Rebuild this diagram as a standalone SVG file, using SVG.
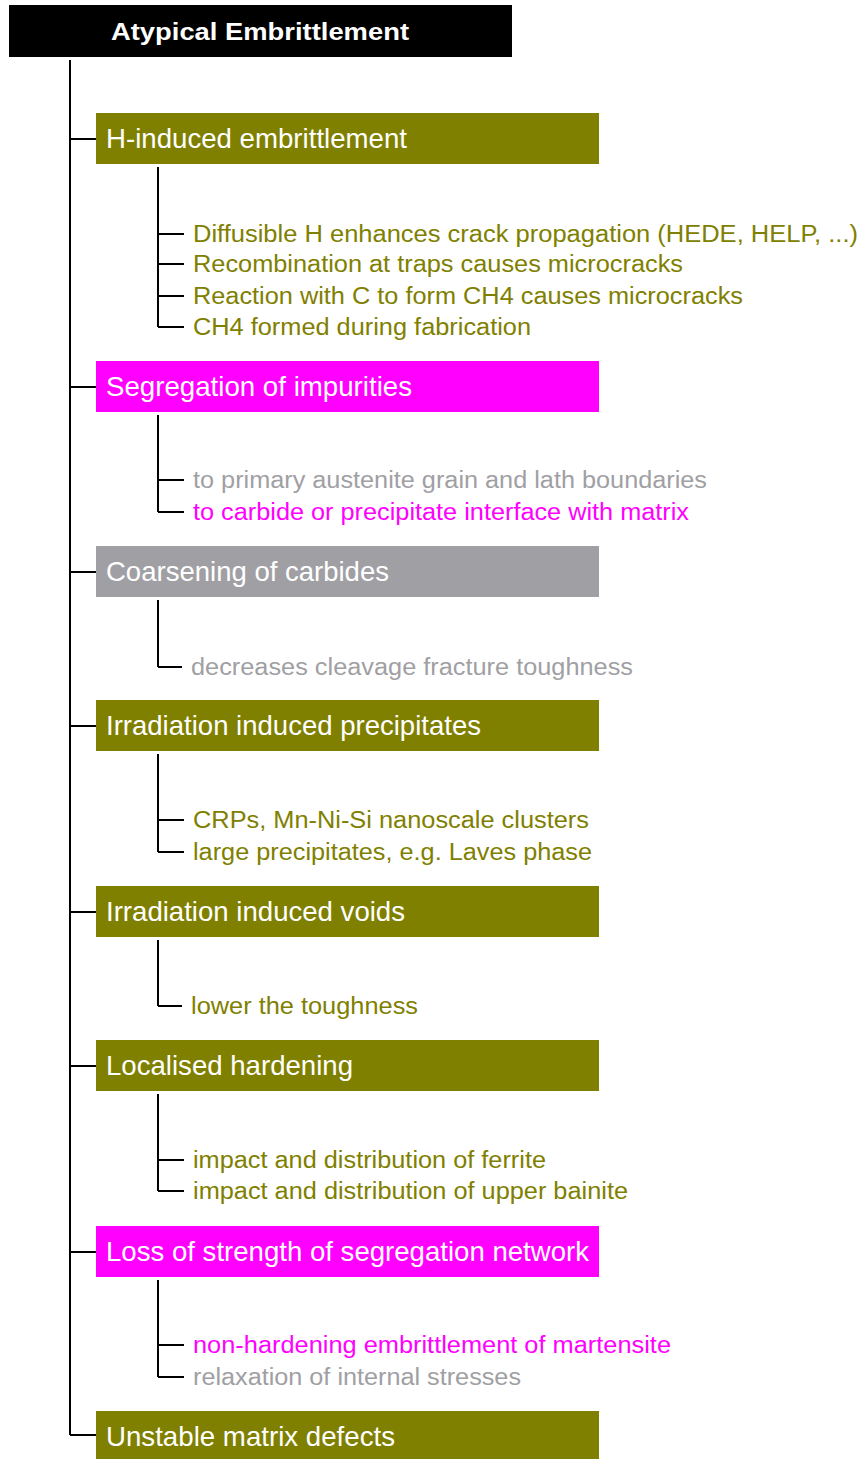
<svg xmlns="http://www.w3.org/2000/svg" width="862" height="1459" viewBox="0 0 862 1459">
<style>
.olive{fill:#808000}
.mag{fill:#ff00ff}
.gray{fill:#a0a0a4}
.title{font-family:"Liberation Sans",Arial,sans-serif;font-size:28px;fill:#ffffff}
.sub{font-family:"Liberation Sans",Arial,sans-serif;font-size:23px}
.to{fill:#808000}
.tm{fill:#ff00ff}
.tg{fill:#a0a0a4}
.conn{stroke:#000;stroke-width:2;fill:none}
</style>
<rect width="862" height="1459" fill="#ffffff"/>
<g id="connectors">
<path class="conn" d="M70 60 V1435 M70 139 H96 M70 387 H96 M70 572 H96 M70 726 H96 M70 912 H96 M70 1066 H96 M70 1252 H96 M70 1435 H96"/>
<path class="conn" d="M158 167 V327 M158 234 H184 M158 264 H184 M158 296 H184 M158 327 H184"/>
<path class="conn" d="M158 415 V512 M158 480 H184 M158 512 H184"/>
<path class="conn" d="M158 600 V667 M158 667 H182"/>
<path class="conn" d="M158 754 V852 M158 820 H184 M158 852 H184"/>
<path class="conn" d="M158 940 V1006 M158 1006 H182"/>
<path class="conn" d="M158 1094 V1191 M158 1160 H184 M158 1191 H184"/>
<path class="conn" d="M158 1280 V1377 M158 1345 H184 M158 1377 H184"/>
</g>
<g id="root">
<rect x="9" y="5" width="503" height="52" fill="#000"/>
<text x="111" y="40" font-family="Liberation Sans,Arial,sans-serif" font-weight="bold" font-size="24" fill="#fff" textLength="298" lengthAdjust="spacingAndGlyphs">Atypical Embrittlement</text>
</g>
<g id="n1">
<rect class="olive" x="96" y="113" width="503" height="51"/>
<text class="title" x="106" y="148" textLength="301" lengthAdjust="spacingAndGlyphs">H-induced embrittlement</text>
</g>
<g id="n1a"><text class="sub to" x="193" y="241.5" textLength="665" lengthAdjust="spacingAndGlyphs">Diffusible H enhances crack propagation (HEDE, HELP, ...)</text></g>
<g id="n1b"><text class="sub to" x="193" y="272" textLength="490" lengthAdjust="spacingAndGlyphs">Recombination at traps causes microcracks</text></g>
<g id="n1c"><text class="sub to" x="193" y="303.5" textLength="550" lengthAdjust="spacingAndGlyphs">Reaction with C to form CH4 causes microcracks</text></g>
<g id="n1d"><text class="sub to" x="193" y="334.5" textLength="338" lengthAdjust="spacingAndGlyphs">CH4 formed during fabrication</text></g>
<g id="n2">
<rect class="mag" x="96" y="361" width="503" height="51"/>
<text class="title" x="106" y="396" textLength="306" lengthAdjust="spacingAndGlyphs">Segregation of impurities</text>
</g>
<g id="n2a"><text class="sub tg" x="193" y="487.5" textLength="514" lengthAdjust="spacingAndGlyphs">to primary austenite grain and lath boundaries</text></g>
<g id="n2b"><text class="sub tm" x="193" y="519.5" textLength="496" lengthAdjust="spacingAndGlyphs">to carbide or precipitate interface with matrix</text></g>
<g id="n3">
<rect class="gray" x="96" y="546" width="503" height="51"/>
<text class="title" x="106" y="581" textLength="283" lengthAdjust="spacingAndGlyphs">Coarsening of carbides</text>
</g>
<g id="n3a"><text class="sub tg" x="191" y="674.5" textLength="442" lengthAdjust="spacingAndGlyphs">decreases cleavage fracture toughness</text></g>
<g id="n4">
<rect class="olive" x="96" y="700" width="503" height="51"/>
<text class="title" x="106" y="735" textLength="375" lengthAdjust="spacingAndGlyphs">Irradiation induced precipitates</text>
</g>
<g id="n4a"><text class="sub to" x="193" y="827.5" textLength="396" lengthAdjust="spacingAndGlyphs">CRPs, Mn-Ni-Si nanoscale clusters</text></g>
<g id="n4b"><text class="sub to" x="193" y="859.5" textLength="399" lengthAdjust="spacingAndGlyphs">large precipitates, e.g. Laves phase</text></g>
<g id="n5">
<rect class="olive" x="96" y="886" width="503" height="51"/>
<text class="title" x="106" y="921" textLength="299" lengthAdjust="spacingAndGlyphs">Irradiation induced voids</text>
</g>
<g id="n5a"><text class="sub to" x="191" y="1014" textLength="227" lengthAdjust="spacingAndGlyphs">lower the toughness</text></g>
<g id="n6">
<rect class="olive" x="96" y="1040" width="503" height="51"/>
<text class="title" x="106" y="1075" textLength="247" lengthAdjust="spacingAndGlyphs">Localised hardening</text>
</g>
<g id="n6a"><text class="sub to" x="193" y="1167.5" textLength="353" lengthAdjust="spacingAndGlyphs">impact and distribution of ferrite</text></g>
<g id="n6b"><text class="sub to" x="193" y="1198.5" textLength="435" lengthAdjust="spacingAndGlyphs">impact and distribution of upper bainite</text></g>
<g id="n7">
<rect class="mag" x="96" y="1226" width="503" height="51"/>
<text class="title" x="106" y="1261" textLength="483" lengthAdjust="spacingAndGlyphs">Loss of strength of segregation network</text>
</g>
<g id="n7a"><text class="sub tm" x="193" y="1352.5" textLength="478" lengthAdjust="spacingAndGlyphs">non-hardening embrittlement of martensite</text></g>
<g id="n7b"><text class="sub tg" x="193" y="1384.5" textLength="328" lengthAdjust="spacingAndGlyphs">relaxation of internal stresses</text></g>
<g id="n8">
<rect class="olive" x="96" y="1411" width="503" height="51"/>
<text class="title" x="106" y="1446" textLength="289" lengthAdjust="spacingAndGlyphs">Unstable matrix defects</text>
</g>
</svg>
